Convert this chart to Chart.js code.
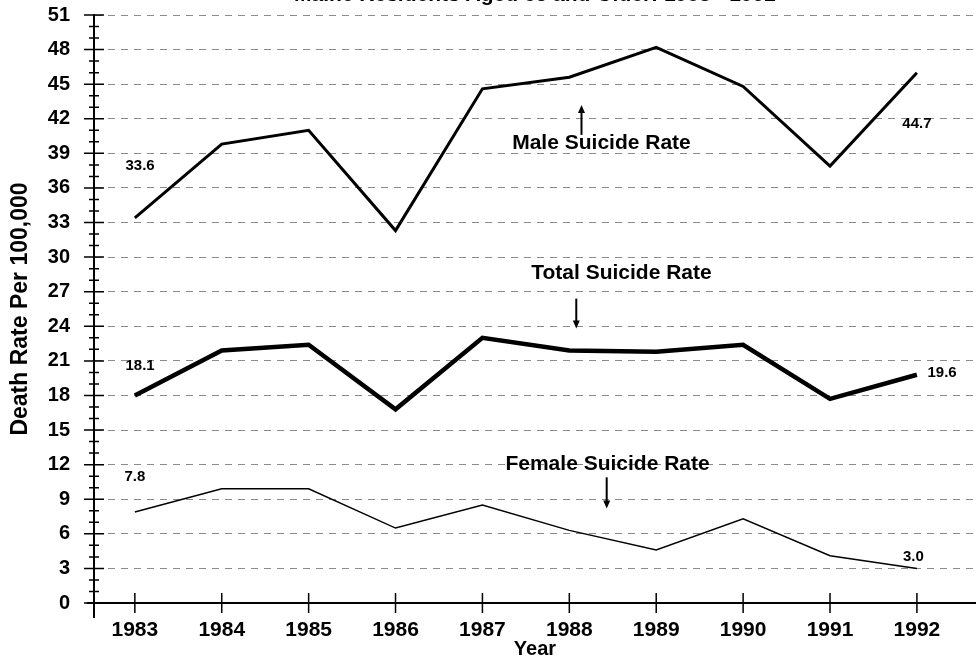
<!DOCTYPE html>
<html>
<head>
<meta charset="utf-8">
<script src="https://cdn.jsdelivr.net/npm/chart.js@4.4.1/dist/chart.umd.min.js"></script>
<style>
html, body { margin: 0; padding: 0; background: #fff; overflow: hidden; }
#wrap { position: relative; width: 976px; height: 658px; overflow: hidden; }
#chart { position: absolute; left: 0; top: -30px; }
</style>
</head>
<body>
<div id="wrap"><canvas id="chart" width="976" height="693"></canvas></div>
<script>
// values
const years = [1983, 1984, 1985, 1986, 1987, 1988, 1989, 1990, 1991, 1992];
const maleRate = [33.4, 39.8, 41.0, 32.3, 44.6, 45.6, 48.2, 44.8, 37.9, 46.0];
const totalRate = [18.0, 21.9, 22.4, 16.8, 23.0, 21.9, 21.8, 22.4, 17.7, 19.8];
const femaleRate = [7.9, 9.9, 9.9, 6.5, 8.5, 6.3, 4.6, 7.3, 4.1, 3.0];
const yMax = 51;
const yStep = 3;

const FONT = "'Liberation Sans', Arial, sans-serif";

function pts(vals) {
	return years.map((yr, i) => ({ x: yr, y: vals[i] }));
}

// tick marks that cross the axes, like the original
const axisMarks = {
	id: 'axisMarks',
	afterDraw(chart) {
		const ctx = chart.ctx;
		const xs = chart.scales.x, ys = chart.scales.y;
		const x0 = xs.left, y0 = ys.bottom;
		ctx.save();
		ctx.strokeStyle = '#000';
		ctx.lineWidth = 1.5;
		ctx.beginPath();
		for (let v = 0; v <= yMax; v++) {
			const py = ys.getPixelForValue(v);
			const len = v % yStep === 0 ? 10 : 5;
			ctx.moveTo(x0 - len, py);
			ctx.lineTo(x0 + len, py);
		}
		years.forEach(yr => {
			const px = xs.getPixelForValue(yr);
			ctx.moveTo(px, y0 - 10);
			ctx.lineTo(px, y0 + 10);
		});
		ctx.stroke();
		ctx.lineWidth = 2;
		ctx.beginPath();
		ctx.moveTo(x0, y0);
		ctx.lineTo(x0, y0 + 15);
		ctx.moveTo(x0 - 7, y0);
		ctx.lineTo(x0, y0);
		ctx.stroke();
		ctx.restore();
	}
};

// series names, arrows and end values
const notes = {
	id: 'notes',
	afterDraw(chart) {
		const ctx = chart.ctx;
		const xs = chart.scales.x, ys = chart.scales.y;
		const txt = [
			['33.6', 1983.06, 37.9, 15],
			['18.1', 1983.06, 20.6, 15],
			['7.8', 1983.0, 10.9, 15],
			['44.7', 1992.0, 41.6, 15],
			['19.6', 1992.29, 19.95, 15],
			['3.0', 1991.96, 4.0, 15],
			['Male Suicide Rate', 1988.37, 39.9, 21],
			['Total Suicide Rate', 1988.6, 28.6, 21],
			['Female Suicide Rate', 1988.44, 12.0, 21]
		];
		const arrows = [
			[1988.14, 40.6, 43.2],
			[1988.08, 26.4, 23.8],
			[1988.43, 10.9, 8.2]
		];
		ctx.save();
		ctx.fillStyle = '#000';
		ctx.textAlign = 'center';
		ctx.textBaseline = 'middle';
		txt.forEach(t => {
			ctx.font = 'bold ' + t[3] + 'px ' + FONT;
			ctx.fillText(t[0], xs.getPixelForValue(t[1]), ys.getPixelForValue(t[2]));
		});
		ctx.strokeStyle = '#000';
		ctx.lineWidth = 2;
		arrows.forEach(a => {
			const px = xs.getPixelForValue(a[0]);
			const p1 = ys.getPixelForValue(a[1]);
			const p2 = ys.getPixelForValue(a[2]);
			const dir = p2 > p1 ? 1 : -1;
			ctx.beginPath();
			ctx.moveTo(px, p1);
			ctx.lineTo(px, p2 - dir * 5);
			ctx.stroke();
			ctx.beginPath();
			ctx.moveTo(px, p2);
			ctx.lineTo(px - 3.5, p2 - dir * 8);
			ctx.lineTo(px + 3.5, p2 - dir * 8);
			ctx.closePath();
			ctx.fill();
		});
		ctx.restore();
	}
};

new Chart(document.getElementById('chart'), {
	type: 'line',
	data: {
		datasets: [
			{
				label: 'Male Suicide Rate',
				data: pts(maleRate),
				borderColor: '#000',
				borderWidth: 3,
				borderJoinStyle: 'miter',
				pointRadius: 0,
				fill: false
			},
			{
				label: 'Total Suicide Rate',
				data: pts(totalRate),
				borderColor: '#000',
				borderWidth: 4.5,
				borderJoinStyle: 'miter',
				pointRadius: 0,
				fill: false
			},
			{
				label: 'Female Suicide Rate',
				data: pts(femaleRate),
				borderColor: '#000',
				borderWidth: 1.5,
				borderJoinStyle: 'miter',
				pointRadius: 0,
				fill: false
			}
		]
	},
	options: {
		responsive: false,
		animation: false,
		devicePixelRatio: 1,
		layout: { padding: 0 },
		plugins: {
			legend: { display: false },
			tooltip: { enabled: false },
			title: {
				display: true,
				fullSize: false,
				text: 'Maine Residents Aged 65 and Older: 1983 - 1992',
				color: '#000',
				font: { family: FONT, size: 21, weight: 'bold', lineHeight: 1.2 },
				padding: { top: 12.4, bottom: 7.4 }
			}
		},
		scales: {
			x: {
				type: 'linear',
				min: 1982.53,
				max: 1992.68,
				afterFit(s) { s.height = 60; },
				grid: { color: 'transparent', tickLength: 10, tickColor: 'transparent' },
				border: { display: true, color: '#000', width: 2 },
				ticks: {
					stepSize: 1,
					includeBounds: false,
					maxRotation: 0,
					padding: 7,
					color: '#000',
					font: { family: FONT, size: 21, weight: 'bold', lineHeight: 1 },
					callback: v => String(v)
				},
				title: {
					display: true,
					text: 'Year',
					color: '#000',
					font: { family: FONT, size: 20, weight: 'bold', lineHeight: 1 },
					padding: { top: -2, bottom: 4 }
				}
			},
			y: {
				min: 0,
				max: yMax,
				afterFit(s) { s.width = 94; },
				grid: { color: '#8a8a8a', lineWidth: 1, tickLength: 12, tickColor: 'transparent' },
				border: { display: true, color: '#000', width: 2, dash: [7, 6] },
				ticks: {
					stepSize: yStep,
					padding: 12,
					color: '#000',
					font: { family: FONT, size: 20, weight: 'bold' }
				},
				title: {
					display: true,
					text: 'Death Rate Per 100,000',
					color: '#000',
					font: { family: FONT, size: 23, weight: 'bold', lineHeight: 1.2 },
					padding: { top: 7, bottom: 0 }
				}
			}
		}
	},
	plugins: [axisMarks, notes]
});
</script>
</body>
</html>
